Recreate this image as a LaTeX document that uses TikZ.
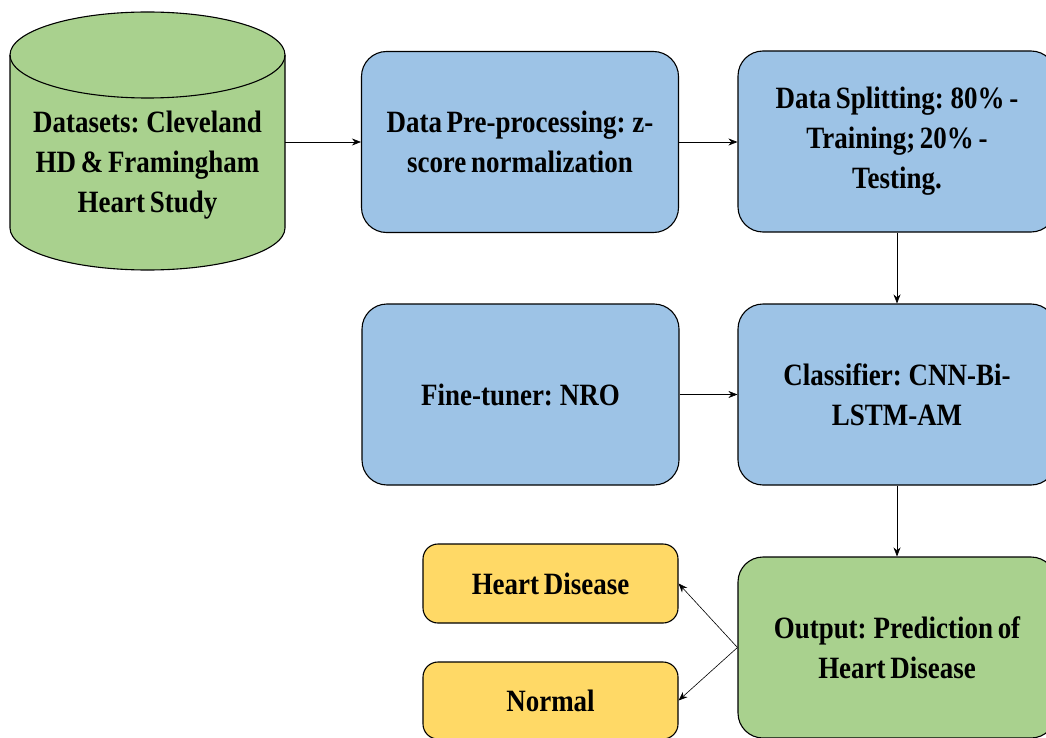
\documentclass[tikz,border=0pt]{standalone}
\usepackage{fontspec}
\setmainfont{Liberation Serif}[FakeStretch=0.87,WordSpace=0.7]
\usetikzlibrary{arrows.meta}
\definecolor{cgreen}{HTML}{A9D18E}
\definecolor{cblue}{HTML}{9DC3E6}
\definecolor{cyellow}{HTML}{FFD966}
\tikzset{
  txt/.style={align=center, inner sep=0pt, font=\fontsize{31}{40}\selectfont\bfseries},
  boxbase/.style={txt, draw=black, line width=1.1pt, rounded corners=25pt},
  bluebox/.style={boxbase, fill=cblue, minimum width=317pt, minimum height=181pt},
  greenbox/.style={boxbase, fill=cgreen, minimum width=318pt, minimum height=181pt},
  yellowbox/.style={boxbase, fill=cyellow, minimum width=255pt, rounded corners=15pt},
  conn/.style={line width=0.6pt, -{Stealth[length=9pt,width=7pt]}},
}
\begin{document}
\begin{tikzpicture}[x=1pt,y=1pt]
\useasboundingbox (0,0) rectangle (1046,-738);
% cylinder
\fill[cgreen] (10,-55) -- (10,-228) arc[start angle=180,end angle=360,x radius=137.5,y radius=42] -- (285,-55) arc[start angle=0,end angle=180,x radius=137.5,y radius=43] -- cycle;
\draw[line width=1.1pt] (10,-55) -- (10,-228) arc[start angle=180,end angle=360,x radius=137.5,y radius=42] -- (285,-55);
\draw[line width=1.1pt] (147.5,-55) ellipse[x radius=137.5,y radius=43];
\node[txt] (ds) at (147.5,-165) {Datasets: Cleveland\\HD \& Framingham\\Heart Study};
\coordinate (dsE) at (285,-142);

\node[bluebox] (pre) at (520,-142) {Data Pre-processing: z-\\score normalization};
\node[greenbox, fill=cblue] (split) at (897,-141.5) {Data Splitting: 80\% -\\Training; 20\% -\\Testing.};
\node[bluebox] (fine) at (520.5,-394.5) {Fine-tuner: NRO};
\node[greenbox, fill=cblue] (cls) at (897,-394.5) {Classifier: CNN-Bi-\\LSTM-AM};
\node[greenbox] (out) at (897,-647.5) {Output: Prediction of\\Heart Disease};
\node[yellowbox, minimum height=79pt] (hd) at (550.5,-583.5) {Heart Disease};
\node[yellowbox, minimum height=77pt] (nm) at (550.5,-700.5) {Normal};

\draw[conn] (dsE) -- (pre.west |- dsE);
\draw[conn] (pre.east) -- (split.west |- pre.east);
\draw[conn] (split.south) -- (cls.north);
\draw[conn] (fine.east) -- (cls.west |- fine.east);
\draw[conn] (cls.south) -- (out.north);
\coordinate (oj) at (out.west);
\draw[conn] (oj) -- (hd.east);
\draw[conn] (oj) -- (nm.east);
\end{tikzpicture}
\end{document}
